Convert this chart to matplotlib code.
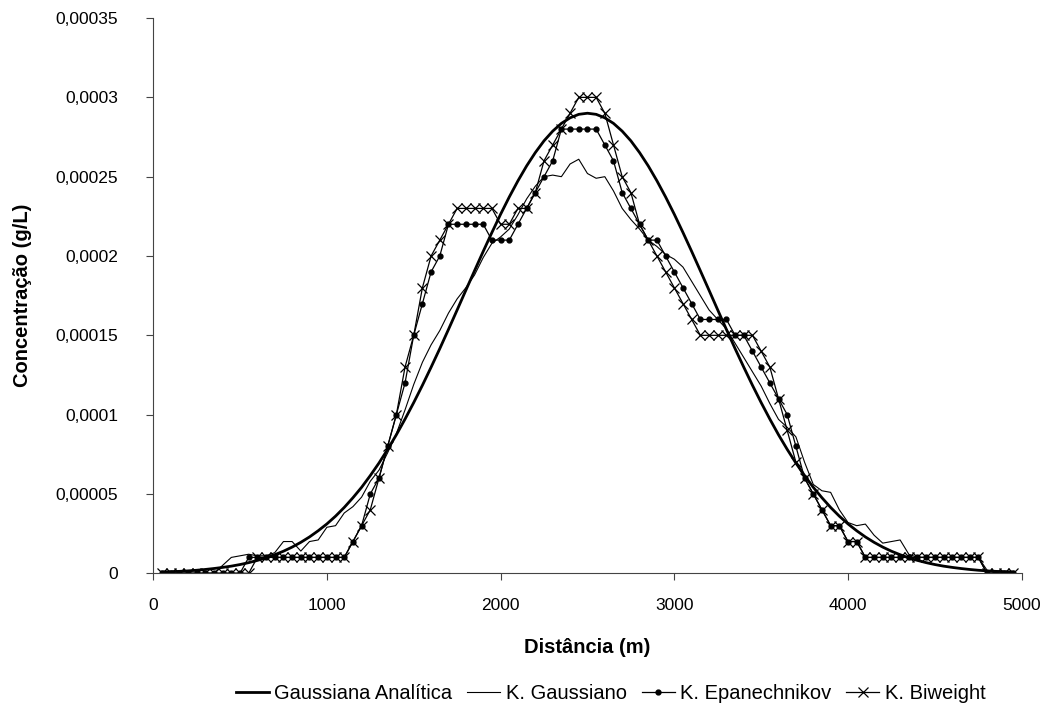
import numpy as np
import matplotlib
matplotlib.use("Agg")
import matplotlib.pyplot as plt
from matplotlib.ticker import FuncFormatter, MultipleLocator
from matplotlib.lines import Line2D

plt.rcParams['font.family'] = ['Liberation Sans', 'DejaVu Sans']

# distância (m), amostras a cada 50 m
distancia = np.arange(50, 5000, 50)

# concentrações em unidades de 1e-5 g/L
gauss_analitica = [
    0.08, 0.10, 0.12, 0.15, 0.19, 0.24, 0.30, 0.37, 0.45, 0.55,
    0.67, 0.81, 0.97, 1.17, 1.39, 1.65, 1.95, 2.29, 2.68, 3.11,
    3.60, 4.15, 4.76, 5.42, 6.16, 6.95, 7.81, 8.73, 9.72, 10.76,
    11.85, 12.99, 14.16, 15.37, 16.60, 17.84, 19.07, 20.29, 21.48, 22.63,
    23.72, 24.74, 25.68, 26.52, 27.26, 27.87, 28.36, 28.71, 28.93,
    29.00,
    28.93, 28.71, 28.36, 27.87, 27.26, 26.52, 25.68, 24.74, 23.72, 22.63,
    21.48, 20.29, 19.07, 17.84, 16.60, 15.37, 14.16, 12.99, 11.85, 10.76,
    9.72, 8.73, 7.81, 6.95, 6.16, 5.42, 4.76, 4.15, 3.60, 3.11,
    2.68, 2.29, 1.95, 1.65, 1.39, 1.17, 0.97, 0.81, 0.67, 0.55,
    0.45, 0.37, 0.30, 0.24, 0.19, 0.15, 0.12, 0.10, 0.08]

k_gaussiano = [
    0, 0, 0, 0, 0, 0, 0,
    0.5, 1.0, 1.1, 1.2, 1.1, 1.1, 1.3, 2.0, 2.0, 1.4, 2.0, 2.1, 2.9,
    3.0, 3.8, 4.2, 4.8, 5.8, 6.5, 7.6, 8.8, 10.3, 11.9,
    13.3, 14.4, 15.3, 16.4, 17.3, 18.0, 18.8, 19.9, 20.8, 21.2,
    21.7, 22.6, 23.6, 24.4, 25.0, 25.1, 25.0, 25.8, 26.1, 25.2,
    24.9, 25.0, 24.1, 23.0, 22.3, 21.7, 21.0, 20.6, 20.1, 19.8,
    19.3, 18.4, 17.5, 16.6, 16.0, 15.4, 14.5, 13.6, 12.7, 11.8,
    10.7, 9.7, 9.2, 8.6, 7.0, 5.6, 5.2, 5.1, 4.0, 3.2,
    3.0, 3.1, 2.4, 1.9, 2.0, 2.1, 1.2, 1.0, 1.0, 1.0,
    1.0, 1.0, 1.0, 1.0, 1.0, 0.2, 0, 0, 0]

k_epanechnikov = [
    0, 0, 0, 0, 0, 0, 0, 0, 0, 0,
    1, 1, 1, 1, 1, 1, 1, 1, 1, 1, 1, 1,
    2, 3, 5, 6, 8, 10, 12, 15, 17, 19,
    20, 22, 22, 22, 22, 22, 21, 21, 21, 22,
    23, 24, 25, 26, 28, 28, 28, 28, 28, 27,
    26, 24, 23, 22, 21, 21, 20, 19, 18, 17,
    16, 16, 16, 16, 15, 15, 14, 13, 12, 11,
    10, 8, 6, 5, 4, 3, 3, 2, 2, 1,
    1, 1, 1, 1, 1, 1, 1, 1, 1, 1, 1, 1, 1,
    0, 0, 0, 0]

k_biweight = [
    0, 0, 0, 0, 0, 0, 0, 0, 0, 0, 0,
    1, 1, 1, 1, 1, 1, 1, 1, 1, 1, 1,
    2, 3, 4, 6, 8, 10, 13, 15, 18, 20,
    21, 22, 23, 23, 23, 23, 23, 22, 22, 23,
    23, 24, 26, 27, 28, 29, 30, 30, 30, 29,
    27, 25, 24, 22, 21, 20, 19, 18, 17, 16,
    15, 15, 15, 15, 15, 15, 15, 14, 13, 11,
    9, 7, 6, 5, 4, 3, 3, 2, 2, 1,
    1, 1, 1, 1, 1, 1, 1, 1, 1, 1, 1, 1, 1,
    0, 0, 0, 0]

for s in (gauss_analitica, k_gaussiano, k_epanechnikov, k_biweight):
    assert len(s) == len(distancia), len(s)

ESCALA = 1e-5


def fmt_virgula(v, pos):
    s = f"{v:.5f}".rstrip('0').rstrip('.')
    return s.replace('.', ',')


fig = plt.figure(figsize=(10.49, 7.22), dpi=100)
ax = fig.add_axes([0.146, 0.206, 0.828, 0.769])

ax.plot(distancia, np.array(k_gaussiano) * ESCALA, c='black', lw=0.8,
        label='K. Gaussiano')
ax.plot(distancia, np.array(k_epanechnikov) * ESCALA, c='black', lw=0.9,
        marker='o', markersize=3.5, label='K. Epanechnikov')
ax.plot(distancia, np.array(k_biweight) * ESCALA, c='black', lw=0.9,
        marker='x', markersize=7, markeredgewidth=0.9, label='K. Biweight')
ax.plot(distancia, np.array(gauss_analitica) * ESCALA, c='black', lw=2.0,
        label='Gaussiana Analítica')

ax.set_xlim(0, 5000)
ax.set_ylim(0, 0.00035)
ax.xaxis.set_major_locator(MultipleLocator(1000))
ax.yaxis.set_major_locator(MultipleLocator(0.00005))
ax.yaxis.set_major_formatter(FuncFormatter(fmt_virgula))
ax.tick_params(labelsize=12.5, length=5, width=0.8, color='#444444')
ax.tick_params(axis='x', pad=13)
ax.tick_params(axis='y', pad=20)
ax.spines['top'].set_visible(False)
ax.spines['right'].set_visible(False)
for lado in ('left', 'bottom'):
    ax.spines[lado].set_color('#444444')
    ax.spines[lado].set_linewidth(0.8)

ax.set_xlabel('Distância (m)', fontsize=14.5, fontweight='bold', labelpad=18)
ax.set_ylabel('Concentração (g/L)', fontsize=14.5, fontweight='bold',
              labelpad=17)

handles = [
    Line2D([], [], c='black', lw=2.0),
    Line2D([], [], c='black', lw=0.8),
    Line2D([], [], c='black', lw=0.9, marker='o', markersize=3.5),
    Line2D([], [], c='black', lw=0.9, marker='x', markersize=7,
           markeredgewidth=0.9),
]
nomes = ['Gaussiana Analítica', 'K. Gaussiano', 'K. Epanechnikov',
         'K. Biweight']
fig.legend(handles, nomes, loc='center', bbox_to_anchor=(0.582, 0.04),
           ncol=4, frameon=False, fontsize=14.5, handlelength=1.65,
           handletextpad=0.25, columnspacing=0.75)

plt.savefig('out.png', dpi=100)
plt.close()
